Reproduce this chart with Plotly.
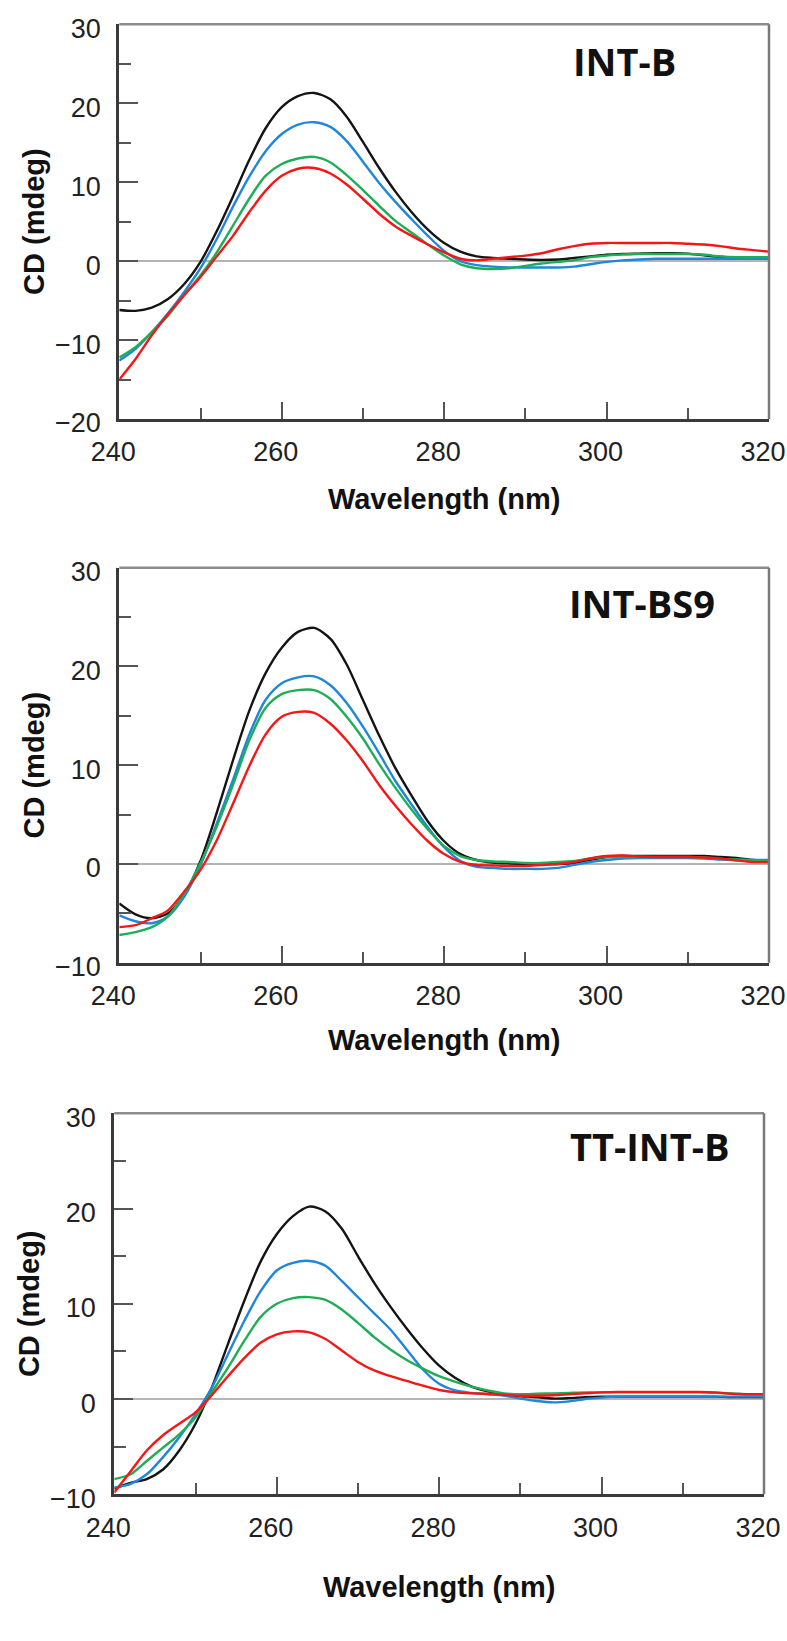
import plotly.graph_objects as go

wavelength = list(range(240, 322, 2))

# Panel 1: INT-B
p1_black = [-6.2, -6.3, -5.9, -4.8, -2.9, -0.1, 3.8, 8.2, 12.8, 16.8, 19.5, 20.9, 21.3, 20.5, 18.3, 15.1, 11.8, 8.8, 6.2, 4.0,
            2.3, 1.2, 0.6, 0.4, 0.3, 0.2, 0.15, 0.2, 0.4, 0.6, 0.8, 0.9, 0.95, 1.0, 1.0, 0.95, 0.75, 0.55, 0.45, 0.4, 0.4]
p1_blue = [-12.6, -11.1, -9.0, -6.6, -3.9, -0.9, 2.8, 6.9, 10.7, 13.9, 16.1, 17.3, 17.6, 17.0, 15.2, 12.6, 9.9, 7.5, 5.3, 3.2,
           1.3, 0.0, -0.5, -0.7, -0.8, -0.8, -0.8, -0.8, -0.7, -0.4, -0.1, 0.1, 0.2, 0.3, 0.3, 0.3, 0.3, 0.3, 0.3, 0.3, 0.3]
p1_green = [-12.2, -10.9, -9.0, -6.9, -4.3, -1.8, 1.1, 4.5, 7.9, 10.8, 12.3, 13.0, 13.2, 12.5, 10.9, 9.0, 7.0, 5.1, 3.6, 2.1,
            0.7, -0.4, -0.9, -1.0, -0.9, -0.6, -0.3, -0.1, 0.1, 0.5, 0.7, 0.85, 0.9, 0.9, 0.9, 0.9, 0.8, 0.6, 0.5, 0.5, 0.5]
p1_red = [-15.0, -12.4, -9.4, -6.7, -4.3, -2.0, 0.6, 3.2, 6.2, 8.9, 10.8, 11.7, 11.8, 11.1, 9.7, 7.9, 6.0, 4.4, 3.2, 2.1,
          1.1, 0.3, 0.1, 0.3, 0.5, 0.7, 1.0, 1.5, 1.9, 2.2, 2.3, 2.3, 2.3, 2.3, 2.3, 2.2, 2.1, 1.9, 1.6, 1.4, 1.2]

# Panel 2: INT-BS9
p2_black = [-4.0, -5.1, -5.5, -5.0, -3.1, 0.3, 5.2, 10.5, 15.5, 19.3, 21.9, 23.5, 23.9, 22.8, 20.2, 16.6, 13.0, 9.7, 6.9, 4.3,
            2.3, 1.0, 0.4, 0.15, 0.05, 0.0, 0.0, 0.0, 0.1, 0.4, 0.7, 0.8, 0.8, 0.8, 0.8, 0.8, 0.8, 0.7, 0.6, 0.4, 0.3]
p2_blue = [-5.2, -5.8, -6.0, -5.3, -3.3, -0.1, 4.1, 8.5, 13.1, 16.6, 18.3, 18.9, 19.0, 18.1, 16.3, 13.9, 11.2, 8.4, 6.0, 3.7,
           1.7, 0.3, -0.3, -0.4, -0.5, -0.5, -0.5, -0.4, -0.1, 0.2, 0.4, 0.55, 0.6, 0.6, 0.6, 0.6, 0.55, 0.45, 0.4, 0.4, 0.4]
p2_green = [-7.2, -6.9, -6.4, -5.3, -3.0, 0.1, 3.8, 8.0, 12.5, 15.8, 17.2, 17.6, 17.6, 16.7, 14.9, 12.7, 10.1, 7.7, 5.5, 3.5,
            1.8, 0.8, 0.4, 0.25, 0.2, 0.1, 0.1, 0.2, 0.3, 0.55, 0.7, 0.7, 0.7, 0.7, 0.7, 0.7, 0.65, 0.5, 0.45, 0.4, 0.3]
p2_red = [-6.4, -6.2, -5.5, -4.7, -2.8, -0.6, 2.4, 6.1, 9.9, 13.1, 14.9, 15.4, 15.3, 14.2, 12.5, 10.4, 8.0, 5.9, 4.0, 2.3,
          1.0, 0.2, -0.1, -0.15, -0.2, -0.2, -0.1, 0.0, 0.2, 0.55, 0.8, 0.85, 0.75, 0.7, 0.7, 0.7, 0.65, 0.55, 0.35, 0.2, 0.2]

# Panel 3: TT-INT-B
p3_black = [-9.4, -8.8, -8.4, -7.4, -5.4, -2.6, 1.2, 5.8, 10.3, 14.4, 17.3, 19.2, 20.2, 19.7, 17.9, 15.0, 12.2, 9.7, 7.4, 5.3,
            3.5, 2.2, 1.3, 0.8, 0.45, 0.3, 0.2, 0.05, 0.1, 0.2, 0.25, 0.25, 0.25, 0.25, 0.25, 0.25, 0.25, 0.25, 0.2, 0.2, 0.2]
p3_blue = [-9.3, -8.9, -7.9, -6.1, -4.0, -1.6, 1.2, 4.7, 8.2, 11.3, 13.5, 14.3, 14.5, 14.0, 12.4, 10.7, 9.0, 7.3, 5.2, 3.1,
           1.6, 0.9, 0.65, 0.5, 0.35, 0.05, -0.2, -0.35, -0.25, 0.0, 0.15, 0.25, 0.25, 0.25, 0.25, 0.25, 0.25, 0.25, 0.25, 0.25, 0.25]
p3_green = [-8.4, -7.9, -6.5, -5.1, -3.7, -1.9, 0.7, 3.3, 6.1, 8.6, 10.0, 10.6, 10.7, 10.4, 9.4, 8.0, 6.5, 5.2, 4.1, 3.2,
            2.4, 1.8, 1.3, 0.9, 0.6, 0.5, 0.55, 0.6, 0.65, 0.7, 0.7, 0.7, 0.7, 0.7, 0.7, 0.7, 0.7, 0.65, 0.6, 0.5, 0.5]
p3_red = [-9.8, -7.6, -5.4, -3.8, -2.6, -1.4, 0.4, 2.4, 4.3, 5.9, 6.8, 7.1, 7.0, 6.3, 5.1, 3.9, 3.0, 2.4, 1.9, 1.4,
          0.95, 0.7, 0.6, 0.55, 0.45, 0.35, 0.35, 0.4, 0.5, 0.6, 0.7, 0.75, 0.75, 0.75, 0.75, 0.75, 0.75, 0.7, 0.55, 0.5, 0.5]

panel_labels = ["INT-B", "INT-BS9", "TT-INT-B"]
y_ranges = [[-20, 30], [-10, 30], [-10, 30]]
x_range = [240, 320]
x_tickvals = [240, 260, 280, 300, 320]
x_title = "Wavelength (nm)"
y_title = "CD (mdeg)"

panels = [
    [p1_black, p1_blue, p1_green, p1_red],
    [p2_black, p2_blue, p2_green, p2_red],
    [p3_black, p3_blue, p3_green, p3_red],
]
series_names = ["black", "blue", "green", "red"]
colors = ["#141414", "#1f86dc", "#1eae55", "#f51616"]

W, H = 787, 1641
# plot-area pixel boxes (left, right, top, bottom)
boxes = [(119.3, 769, 24.3, 419), (119.3, 769, 567.7, 962.7), (114.3, 764, 1113.3, 1494.3)]
label_pos = [(0.777, 0.908), (0.805, 0.9095), (0.824, 0.913)]
title_standoff = [23, 20, 35]

fig = go.Figure()
layout = dict(width=W, height=H, margin=dict(l=0, r=0, t=0, b=0, autoexpand=False),
              paper_bgcolor="white", plot_bgcolor="white", showlegend=False)
annotations = []
shapes = []

for i, (series, box) in enumerate(zip(panels, boxes)):
    n = "" if i == 0 else str(i + 1)
    xa, ya = "x" + n, "y" + n
    for name, vals, c in zip(series_names, series, colors):
        fig.add_trace(go.Scatter(x=wavelength, y=vals, mode="lines", name=name,
                                 line=dict(color=c, width=2.4, shape="spline", smoothing=0.8),
                                 xaxis=xa, yaxis=ya))
    l, r, t, b = box
    layout["xaxis" + n] = dict(
        domain=[l / W, r / W], anchor=ya, range=x_range, tickvals=x_tickvals, automargin=False,
        ticks="inside", ticklen=17, tickwidth=2, tickcolor="#555",
        minor=dict(ticks="inside", ticklen=11, tickwidth=2, tickcolor="#555", dtick=10, tick0=240),
        showline=True, linecolor="#3a3a3a", linewidth=3, showgrid=False, zeroline=False,
        tickfont=dict(family="Liberation Sans, Arial", size=27, color="#222"),
        ticklabelstandoff=7, ticklabelshift=-6, ticklabeloverflow="allow",
        title=dict(text=x_title, font=dict(family="Liberation Sans, Arial", size=29, color="#111", weight="bold"),
                   standoff=title_standoff[i]),
    )
    layout["yaxis" + n] = dict(
        domain=[1 - b / H, 1 - t / H], anchor=xa, range=y_ranges[i], dtick=10, automargin=False,
        ticks="inside", ticklen=19, tickwidth=2, tickcolor="#555",
        minor=dict(ticks="inside", ticklen=12, tickwidth=2, tickcolor="#555", dtick=5),
        showline=True, linecolor="#3a3a3a", linewidth=3, showgrid=False,
        zeroline=True, zerolinecolor="#b4b4b4", zerolinewidth=1.5,
        tickfont=dict(family="Liberation Sans, Arial", size=27, color="#222"),
        ticklabelstandoff=10, ticklabelshift=4, ticklabeloverflow="allow",
        title=dict(text=y_title, font=dict(family="Liberation Sans, Arial", size=29, color="#111", weight="bold"),
                   standoff=2),
    )
    # top and right frame lines (lighter grey)
    shapes.append(dict(type="line", xref=xa + " domain", yref=ya + " domain", x0=0, x1=1, y0=1, y1=1,
                       line=dict(color="#8c8c8c", width=2.5)))
    shapes.append(dict(type="line", xref=xa + " domain", yref=ya + " domain", x0=1, x1=1, y0=0, y1=1,
                       line=dict(color="#7a7a7a", width=2.5)))
    lx, ly = label_pos[i]
    annotations.append(dict(text=panel_labels[i], xref=xa + " domain", yref=ya + " domain", x=lx, y=ly,
                            xanchor="center", yanchor="middle", showarrow=False,
                            font=dict(family="Open Sans", size=38, color="#111", weight="bold")))

layout["annotations"] = annotations
layout["shapes"] = shapes
fig.update_layout(**layout)
fig.write_html("out.html", config={"displayModeBar": False},
               post_script="document.body.style.margin='0px';document.body.style.padding='0px';")
